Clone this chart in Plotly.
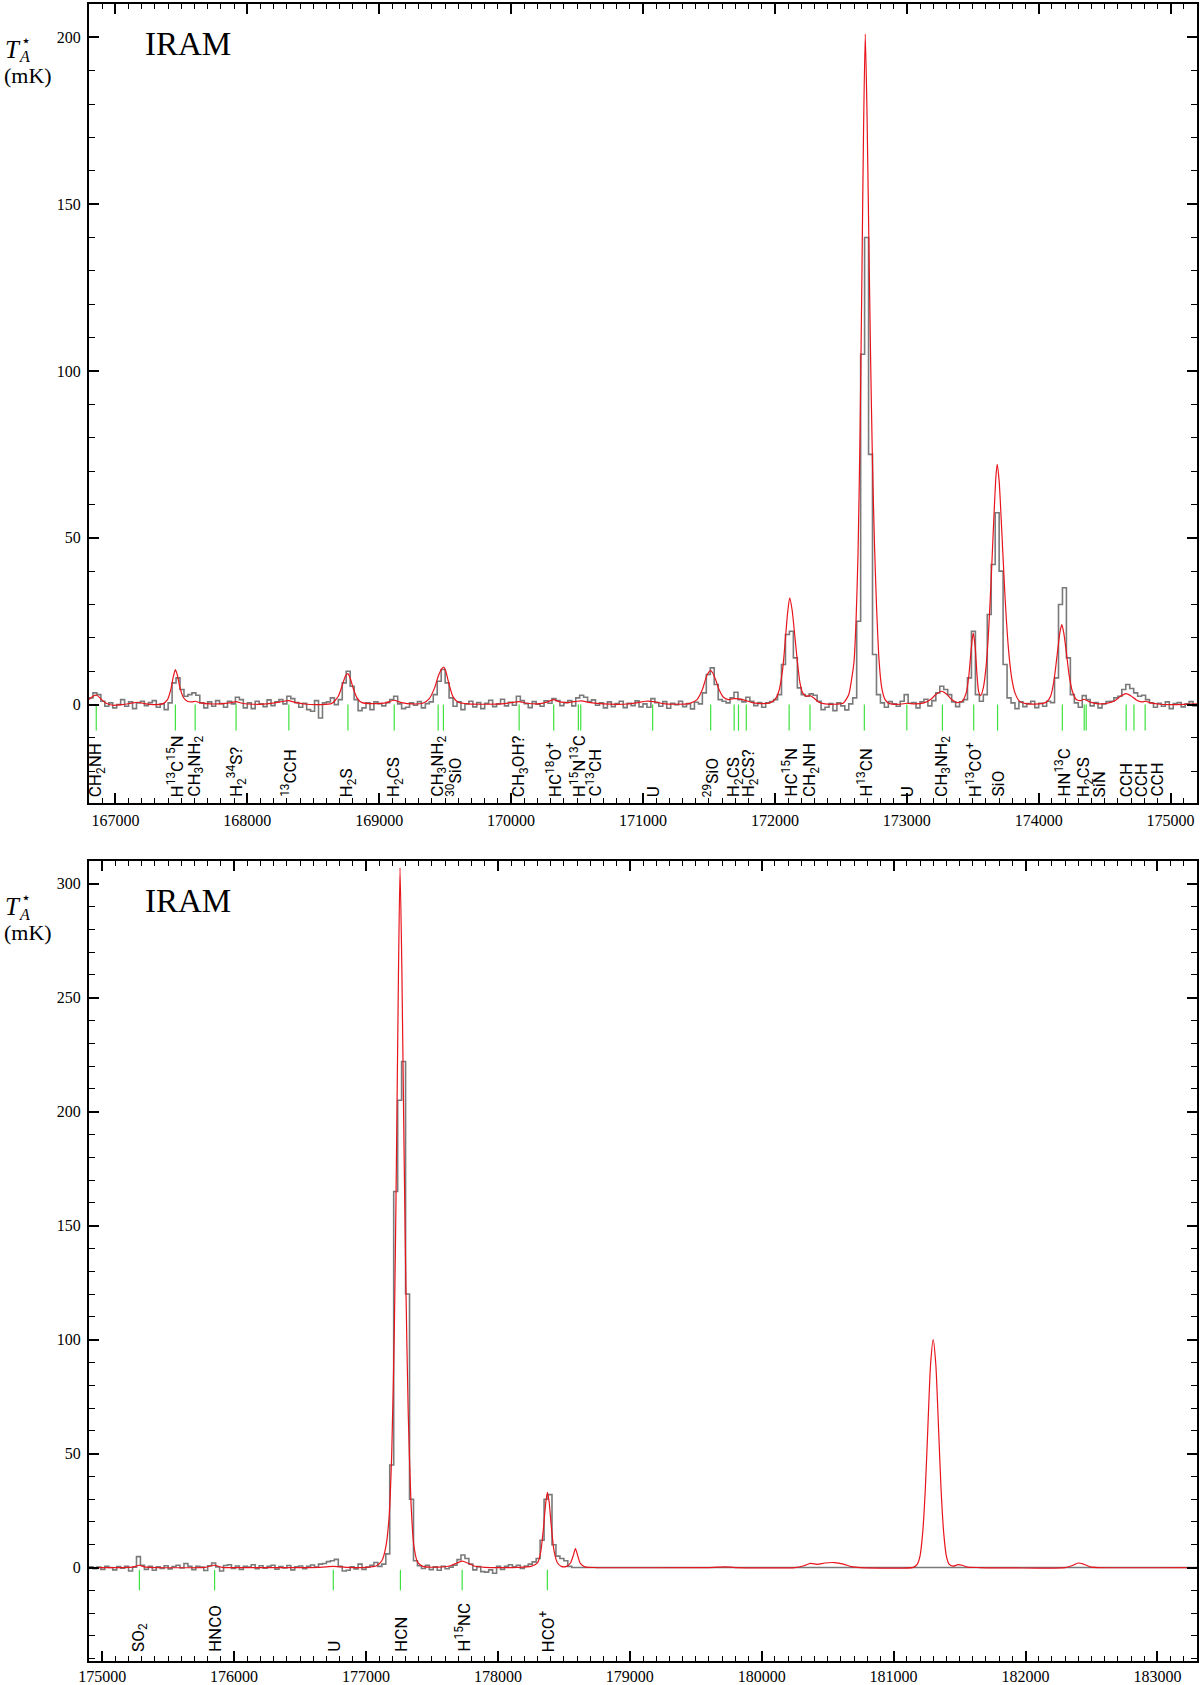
import plotly.graph_objects as go

# ---------------- data : upper band ----------------
OBS1_START = 166800.0   # MHz, first channel edge
OBS1_CHAN = 30.0        # MHz per channel
obs1_mK = [
    2.0, 3.5, 3.0, 1.0, -0.5, 0.5, -1.0, 0.0, 1.5, -0.5, 0.8, -1.2, 0.5, 1.0, -0.3, 0.6, 1.2, -0.8, 0.2, -1.5,
    0.5, 6.5, 8.0, 4.5, 2.5, 3.0, 3.5, 2.8, 0.5, -1.0, 0.8, -0.5, 1.2, 0.3, -0.8, 1.0, 0.2, 2.2, 1.5, -1.0,
    0.5, -1.2, 1.0, 0.2, -0.6, 1.4, -0.3, 0.8, 1.5, 0.2, 2.5, 1.8, 0.6, -0.8, 0.4, -1.5, -2.0, 1.2, -4.0, 0.5,
    0.8, 2.0, 0.0, 1.5, 6.5, 10.0, 5.5, 1.5, -1.8, -1.0, 0.5, -1.5, 0.8, 0.3, -0.4, 0.6, 1.5, 2.5, 0.2, -1.2,
    -0.8, 0.5, -0.2, 0.9, -1.0, 0.3, 0.8, 3.0, 7.0, 10.5, 6.5, 2.0, -0.5, 0.8, -1.5, 0.2, 1.0, -0.7, 0.6, -1.2,
    0.4, 1.3, -0.6, 0.2, 1.6, -0.4, 0.7, -0.2, 2.5, 1.2, 0.3, -0.9, 0.9, 0.1, -0.5, 1.1, 0.4, 1.8, 1.2, -0.3,
    0.6, 1.2, -0.4, 2.0, 2.8, 2.2, 0.9, 1.4, -0.2, 0.5, -1.0, 0.8, -0.6, 0.3, 1.0, -0.9, 0.4, -0.3, 1.1, -0.7,
    0.2, -0.8, 1.8, 0.6, -0.5, 0.9, -1.1, 0.4, 0.0, 1.0, -0.6, 0.3, -1.3, 0.7, 0.2, 3.5, 9.0, 11.0, 6.0, 1.5,
    1.0, 0.5, 2.0, 3.7, 1.5, 0.8, 2.2, 1.0, -0.3, 0.6, -0.8, 0.5, 0.9, 1.5, 3.0, 12.0, 21.0, 22.0, 14.0, 5.0,
    3.0, 2.5, 3.2, 2.8, 1.0, -1.5, -0.8, 0.3, -1.8, 0.5, -0.4, -1.6, 0.2, 2.0, 25.0, 105.0, 140.0, 75.0, 15.0, 3.0,
    0.5, -0.8, 0.9, 0.2, -0.5, 1.0, 3.0, 0.4, 0.6, -1.0, 0.8, 1.6, -0.4, 1.2, 3.5, 5.5, 4.5, 3.0, 0.8, -0.6,
    0.8, 1.5, 8.0, 22.0, 3.0, 1.0, 3.0, 27.0, 42.0, 57.5, 40.0, 12.0, 2.0, 0.5, -1.2, 0.8, -0.6, 0.3, 1.0, -0.9,
    0.4, -0.5, 1.0, 0.6, 8.0, 30.0, 35.0, 14.0, 3.0, 0.5, -0.8, 2.7, 1.5, -0.4, 0.6, -1.0, 0.2, 0.9, 1.0, 2.0,
    2.5, 4.5, 6.0, 4.8, 3.5, 2.5, 2.8, 1.5, 0.5, -0.8, 0.4, -0.5, 0.8, -1.2, 0.3, 0.6, -0.7, 0.2, 0.9, -0.4,
]

model1_freq = [
    166800, 166830, 166860, 166895, 166930, 166980, 167050, 167120, 167170, 167220, 167300, 167360,
    167395, 167420, 167440, 167455, 167470, 167490, 167515, 167545, 167580, 167605, 167640, 167720,
    167820, 167880, 167915, 167960, 168050, 168150, 168250, 168310, 168370, 168450, 168550, 168640,
    168690, 168720, 168745, 168762, 168780, 168805, 168835, 168870, 168950, 169050, 169110, 169170,
    169250, 169330, 169380, 169420, 169450, 169475, 169490, 169505, 169530, 169560, 169600, 169680,
    169800, 169950, 170000, 170060, 170120, 170200, 170270, 170320, 170370, 170430, 170500, 170535,
    170600, 170700, 170850, 170950, 171020, 171080, 171150, 171250, 171350, 171410, 171450, 171480,
    171500, 171513, 171530, 171555, 171580, 171610, 171650, 171690, 171730, 171780, 171830, 171900,
    171960, 172000, 172030, 172060, 172080, 172095, 172112, 172130, 172150, 172170, 172190, 172210,
    172240, 172266, 172295, 172330, 172380, 172450, 172520, 172560, 172585, 172600, 172615, 172630,
    172645, 172660, 172672, 172685, 172698, 172712, 172725, 172740, 172755, 172770, 172790, 172810,
    172835, 172870, 172950, 173000, 173060, 173130, 173180, 173220, 173265, 173300, 173340, 173380,
    173420, 173450, 173470, 173488, 173503, 173518, 173532, 173545, 173560, 173580, 173600, 173620,
    173640, 173660, 173675, 173685, 173700, 173720, 173745, 173770, 173795, 173820, 173850, 173900,
    174000, 174060, 174090, 174115, 174140, 174160, 174175, 174190, 174210, 174230, 174255, 174285,
    174315, 174345, 174380, 174440, 174520, 174580, 174620, 174660, 174700, 174740, 174780, 174810,
    174850, 174920, 175050, 175200,
]
model1_mK = [
    1.5, 2.5, 2.8, 1.5, 0.4, -0.2, 0.0, 0.4, 0.7, 0.3, 0.0, 0.3,
    1.5, 4.5, 8.5, 10.5, 8.8, 5.0, 2.2, 1.0, 0.8, 1.0, 0.6, 0.2,
    0.3, 0.6, 0.9, 0.4, 0.1, 0.2, 0.8, 1.2, 0.6, 0.1, 0.0, 0.3,
    2.5, 5.8, 8.6, 9.3, 8.0, 4.6, 1.8, 0.6, 0.3, 0.5, 1.3, 0.6,
    0.2, 0.4, 1.8, 5.0, 8.8, 10.8, 11.2, 10.0, 6.0, 2.3, 0.7, 0.2,
    0.1, 0.3, 0.6, 0.9, 0.4, 0.2, 0.7, 1.5, 0.8, 0.6, 1.0, 1.1,
    0.6, 0.2, 0.1, 0.5, 1.0, 0.9, 0.3, 0.1, 0.3, 1.5, 4.5, 8.3,
    9.8, 10.2, 9.4, 7.0, 4.2, 2.2, 1.5, 1.8, 1.7, 1.2, 0.6, 0.3,
    0.5, 1.5, 4.0, 11.0, 20.0, 27.0, 32.0, 28.5, 21.0, 13.0, 6.5, 3.5,
    2.5, 2.7, 2.0, 0.8, 0.2, 0.1, 0.5, 3.0, 8.5, 13.0, 25.0, 45.0,
    80.0, 130.0, 172.0, 201.0, 178.0, 140.0, 105.0, 72.0, 48.0, 30.0, 13.0, 5.0,
    1.5, 0.3, 0.1, 0.4, 0.2, 0.5, 1.5, 3.0, 4.0, 3.2, 1.5, 0.6,
    1.0, 3.5, 8.5, 16.5, 21.5, 17.5, 9.0, 3.8, 2.7, 5.0, 11.0, 22.0,
    38.0, 56.0, 68.0, 72.0, 67.0, 52.0, 32.0, 17.0, 8.0, 3.5, 1.2, 0.3,
    0.2, 0.8, 2.5, 7.0, 15.0, 21.5, 24.0, 21.5, 15.5, 9.0, 4.0, 1.5,
    1.2, 1.6, 0.9, 0.3, 0.4, 1.2, 2.5, 3.3, 2.6, 1.4, 0.8, 1.0,
    0.5, 0.1, 0.0, 0.2,
]

lines1_freq = [166855, 167455, 167605, 167915, 168315, 168763, 169114, 169447, 169487,
               170061, 170323, 170510, 170528, 171073, 171513, 171691, 171724, 171783,
               172108, 172266, 172678, 173000, 173270, 173507, 173688, 174179, 174345,
               174360, 174663, 174722, 174807]
lines1_label = ["CH<sub>2</sub>NH", "H<sup>13</sup>C<sup>15</sup>N", "CH<sub>3</sub>NH<sub>2</sub>",
                "H<sub>2</sub><sup>34</sup>S?", "<sup>13</sup>CCH", "H<sub>2</sub>S", "H<sub>2</sub>CS",
                "CH<sub>3</sub>NH<sub>2</sub>", "<sup>30</sup>SiO", "CH<sub>3</sub>OH?",
                "HC<sup>18</sup>O<sup>+</sup>", "H<sup>15</sup>N<sup>13</sup>C", "C<sup>13</sup>CH", "U",
                "<sup>29</sup>SiO", "H<sub>2</sub>CS", "", "H<sub>2</sub>CS?", "HC<sup>15</sup>N",
                "CH<sub>2</sub>NH", "H<sup>13</sup>CN", "U", "CH<sub>3</sub>NH<sub>2</sub>",
                "H<sup>13</sup>CO<sup>+</sup>", "SiO", "HN<sup>13</sup>C", "H<sub>2</sub>CS", "SiN",
                "CCH", "CCH", "CCH"]

# ---------------- data : lower band ----------------
OBS2_START = 174900.0
OBS2_CHAN = 30.0
OBS2_ZERO_UNTIL = 183300.0   # observed trace is blank (0) beyond the data
obs2_mK = [
    0.3, -0.5, 0.2, -0.8, 0.6, 0.0, -1.0, 0.4, -0.3, 0.5, -1.5, 0.2, 4.8, 1.0, -0.8, 0.5, -1.2, 0.3, -0.4, 0.8,
    -0.6, 0.4, 1.0, -0.2, 1.8, 0.5, -0.9, 0.6, 0.2, -1.3, 0.8, 2.0, 0.3, -1.5, 0.9, 1.2, -0.4, 0.7, -0.8, 0.5,
    0.2, 1.2, -0.5, 0.8, -0.3, 0.6, 1.0, -0.7, 0.4, -0.2, 0.9, -1.0, 0.3, 0.7, -0.5, 0.5, 1.1, 0.2, 1.5, 1.8,
    2.6, 3.0, 3.6, 0.5, -1.5, -1.2, 0.3, -0.6, 1.5, -0.8, 0.2, 1.0, 2.2, 0.5, 1.5, 6.0, 45.0, 165.0, 205.0, 222.0,
    120.0, 30.0, 3.0, 0.8, -0.4, 1.0, -0.9, 0.3, -1.2, 0.6, -0.5, 0.2, 1.0, 3.5, 5.5, 4.0, 1.5, -1.0, 0.4, -1.8,
    -2.0, -1.0, -2.5, 0.5, -0.8, 0.6, 1.2, 0.3, 1.0, -0.4, 0.7, 1.5, 2.5, 4.0, 12.0, 30.0, 32.0, 10.0, 5.0, 4.0,
    3.0, 0.5,
]

model2_freq = [
    174900, 175150, 175240, 175280, 175320, 175400, 175780, 175850, 175910, 176200, 176650, 176750,
    176850, 177000, 177080, 177120, 177150, 177175, 177195, 177215, 177230, 177245, 177258, 177272,
    177287, 177302, 177320, 177340, 177362, 177390, 177430, 177550, 177640, 177690, 177730, 177770,
    177820, 177900, 178150, 178250, 178300, 178325, 178345, 178362, 178375, 178388, 178405, 178425,
    178450, 178480, 178520, 178550, 178570, 178588, 178606, 178625, 178660, 178750, 179600, 179720,
    179800, 180250, 180320, 180370, 180420, 180480, 180550, 180620, 180680, 180750, 181150, 181180,
    181200, 181220, 181240, 181260, 181280, 181300, 181320, 181340, 181360, 181380, 181400, 181420,
    181450, 181490, 181520, 181560, 181650, 182300, 182350, 182400, 182440, 182490, 182550, 183300,
]
model2_mK = [
    0.0, 0.0, 0.3, 1.0, 0.3, 0.0, 0.1, 1.0, 0.1, 0.0, 0.1, 0.5,
    0.1, 0.1, 0.8, 3.0, 9.0, 22.0, 50.0, 105.0, 175.0, 255.0, 307.0, 262.0,
    190.0, 125.0, 68.0, 30.0, 10.0, 2.5, 0.5, 0.2, 0.8, 2.0, 2.8, 2.0,
    0.7, 0.1, 0.1, 0.5, 2.0, 7.0, 17.0, 28.0, 33.0, 29.0, 18.0, 7.5,
    2.2, 0.5, 0.5, 2.0, 5.0, 8.3, 5.0, 1.8, 0.3, 0.0, 0.0, 0.3,
    0.0, 0.0, 0.8, 1.8, 1.4, 2.0, 2.2, 1.5, 0.4, 0.0, 0.1, 1.5,
    5.0, 15.0, 34.0, 62.0, 89.0, 100.0, 89.0, 62.0, 34.0, 15.0, 5.0, 1.5,
    0.6, 1.3, 1.0, 0.2, 0.0, 0.0, 0.8, 2.0, 1.5, 0.3, 0.0, 0.0,
]

lines2_freq = [175282, 175852, 176752, 177261, 177729, 178375]
lines2_label = ["SO<sub>2</sub>", "HNCO", "U", "HCN", "H<sup>15</sup>NC", "HCO<sup>+</sup>"]

# ---------------- layout / style ----------------
W, H = 1200, 1685
ML, MR, MT, MB = 89, 3, 4, 24
PLOT_W = W - ML - MR
TOP_PX = (4, 803)      # pixel top / bottom of upper panel
BOT_PX = (861, 1661)   # pixel top / bottom of lower panel
PLOT_H = BOT_PX[1] - TOP_PX[0]
TOP_DOMAIN = [(BOT_PX[1] - TOP_PX[1]) / PLOT_H, 1.0]
BOT_DOMAIN = [0.0, (BOT_PX[1] - BOT_PX[0]) / PLOT_H]

GRAY = "#7a7a7a"
RED = "#e8141c"
GREEN = "#3ee23e"
SERIF = "Liberation Serif, Times New Roman, serif"
SANS = "Roboto, Liberation Sans, Arial, sans-serif"
LABEL_GAP = 115.0   # MHz, minimum spacing between neighbouring line labels

fig = go.Figure()


def step_xy(start, chan, vals, zero_until=None):
    xs = [start + chan * i for i in range(len(vals) + 1)]
    ys = list(vals) + [vals[-1]]
    if zero_until is not None:
        ys[-1] = 0.0
        xs.append(zero_until)
        ys.append(0.0)
    return xs, ys


def push_forward(pos, gap):
    out = []
    for p in pos:
        if out and p < out[-1] + gap:
            p = out[-1] + gap
        out.append(p)
    return out


def add_panel(xa, ya, obs_start, obs_chan, obs_vals, mfreq, mvals, lfreq, llabel,
              tick_top, tick_bot, label_base, zero_until=None):
    xs, ys = step_xy(obs_start, obs_chan, obs_vals, zero_until)
    fig.add_trace(go.Scatter(x=xs, y=ys, mode="lines", line=dict(color=GRAY, width=1.6, shape="hv"),
                             xaxis=xa, yaxis=ya, hoverinfo="skip"))
    fig.add_trace(go.Scatter(x=mfreq, y=mvals, mode="lines",
                             line=dict(color=RED, width=1.2, shape="spline", smoothing=0.6),
                             xaxis=xa, yaxis=ya, hoverinfo="skip"))
    gx, gy = [], []
    for f in lfreq:
        gx += [f, f, None]
        gy += [tick_top, tick_bot, None]
    fig.add_trace(go.Scatter(x=gx, y=gy, mode="lines", line=dict(color=GREEN, width=1.2),
                             xaxis=xa, yaxis=ya, hoverinfo="skip"))
    pairs = sorted([(f, t) for f, t in zip(lfreq, llabel) if t])
    lx = push_forward([p[0] for p in pairs], LABEL_GAP)
    xref = "x" if xa == "x" else "x2"
    yref = "y" if ya == "y" else "y2"
    for (f, t), x in zip(pairs, lx):
        fig.add_annotation(x=x, y=label_base, xref=xref, yref=yref, text=t, textangle=-90,
                           xanchor="center", yanchor="bottom", showarrow=False, borderpad=0,
                           font=dict(family=SANS, size=17, color="black"))


add_panel("x", "y", OBS1_START, OBS1_CHAN, obs1_mK, model1_freq, model1_mK,
          lines1_freq, lines1_label, 0.0, -7.8, -28.0)
add_panel("x2", "y2", OBS2_START, OBS2_CHAN, obs2_mK, model2_freq, model2_mK,
          lines2_freq, lines2_label, -1.0, -10.0, -37.5, zero_until=OBS2_ZERO_UNTIL)


def xaxis_style(rng, anchor, standoff):
    return dict(range=rng, anchor=anchor, tickmode="linear", tick0=0, dtick=1000,
                ticks="inside", ticklen=10, tickwidth=1.5, tickcolor="black",
                minor=dict(tick0=0, dtick=100, ticks="inside", ticklen=5, tickwidth=1.2, tickcolor="black"),
                showline=True, linewidth=2, linecolor="black", mirror="ticks",
                showgrid=False, zeroline=False, tickformat="d", ticklabelstandoff=standoff,
                tickfont=dict(family=SERIF, size=16, color="black"))


def yaxis_style(rng, anchor, domain):
    return dict(range=rng, anchor=anchor, domain=domain, tickmode="linear", tick0=0, dtick=50,
                ticks="inside", ticklen=10, tickwidth=1.5, tickcolor="black",
                minor=dict(tick0=0, dtick=10, ticks="inside", ticklen=6, tickwidth=1.2, tickcolor="black"),
                showline=True, linewidth=2, linecolor="black", mirror="ticks",
                showgrid=False, zeroline=False, ticklabelstandoff=3,
                tickfont=dict(family=SERIF, size=16, color="black"))


fig.update_layout(
    width=W, height=H, margin=dict(l=ML, r=MR, t=MT, b=MB, autoexpand=False),
    paper_bgcolor="white", plot_bgcolor="white", showlegend=False, hovermode=False,
    xaxis=xaxis_style([166800, 175200], "y", 2),
    yaxis=yaxis_style([-29.5, 210], "x", TOP_DOMAIN),
    xaxis2=xaxis_style([174900, 183300], "y2", 0),
    yaxis2=yaxis_style([-41, 310], "x2", BOT_DOMAIN),
)


def px2paper(px):
    return (px - ML) / PLOT_W


for yref, (ptop, pbot) in (("y domain", TOP_PX), ("y2 domain", BOT_PX)):
    ph = pbot - ptop

    def fy(off):
        return (pbot - (ptop + off)) / ph

    fig.add_annotation(x=px2paper(3), y=fy(45), xref="paper", yref=yref, text="<i>T</i>",
                       showarrow=False, xanchor="left", yanchor="middle",
                       font=dict(family=SERIF, size=25, color="black"))
    fig.add_annotation(x=px2paper(19), y=fy(36), xref="paper", yref=yref, text="\u22c6",
                       showarrow=False, xanchor="left", yanchor="middle",
                       font=dict(family="DejaVu Sans", size=16, color="black"))
    fig.add_annotation(x=px2paper(17), y=fy(53), xref="paper", yref=yref, text="<i>A</i>",
                       showarrow=False, xanchor="left", yanchor="middle",
                       font=dict(family=SERIF, size=16, color="black"))
    fig.add_annotation(x=px2paper(2), y=fy(71), xref="paper", yref=yref, text="(mK)",
                       showarrow=False, xanchor="left", yanchor="middle",
                       font=dict(family=SERIF, size=22, color="black"))
    fig.add_annotation(x=px2paper(188), y=fy(40), xref="paper", yref=yref, text="IRAM",
                       showarrow=False, xanchor="center", yanchor="middle",
                       font=dict(family=SERIF, size=33, color="black"))

fig.write_html("out.html", config={"displayModeBar": False},
               post_script="document.body.style.margin='0';document.body.style.overflow='hidden';")
